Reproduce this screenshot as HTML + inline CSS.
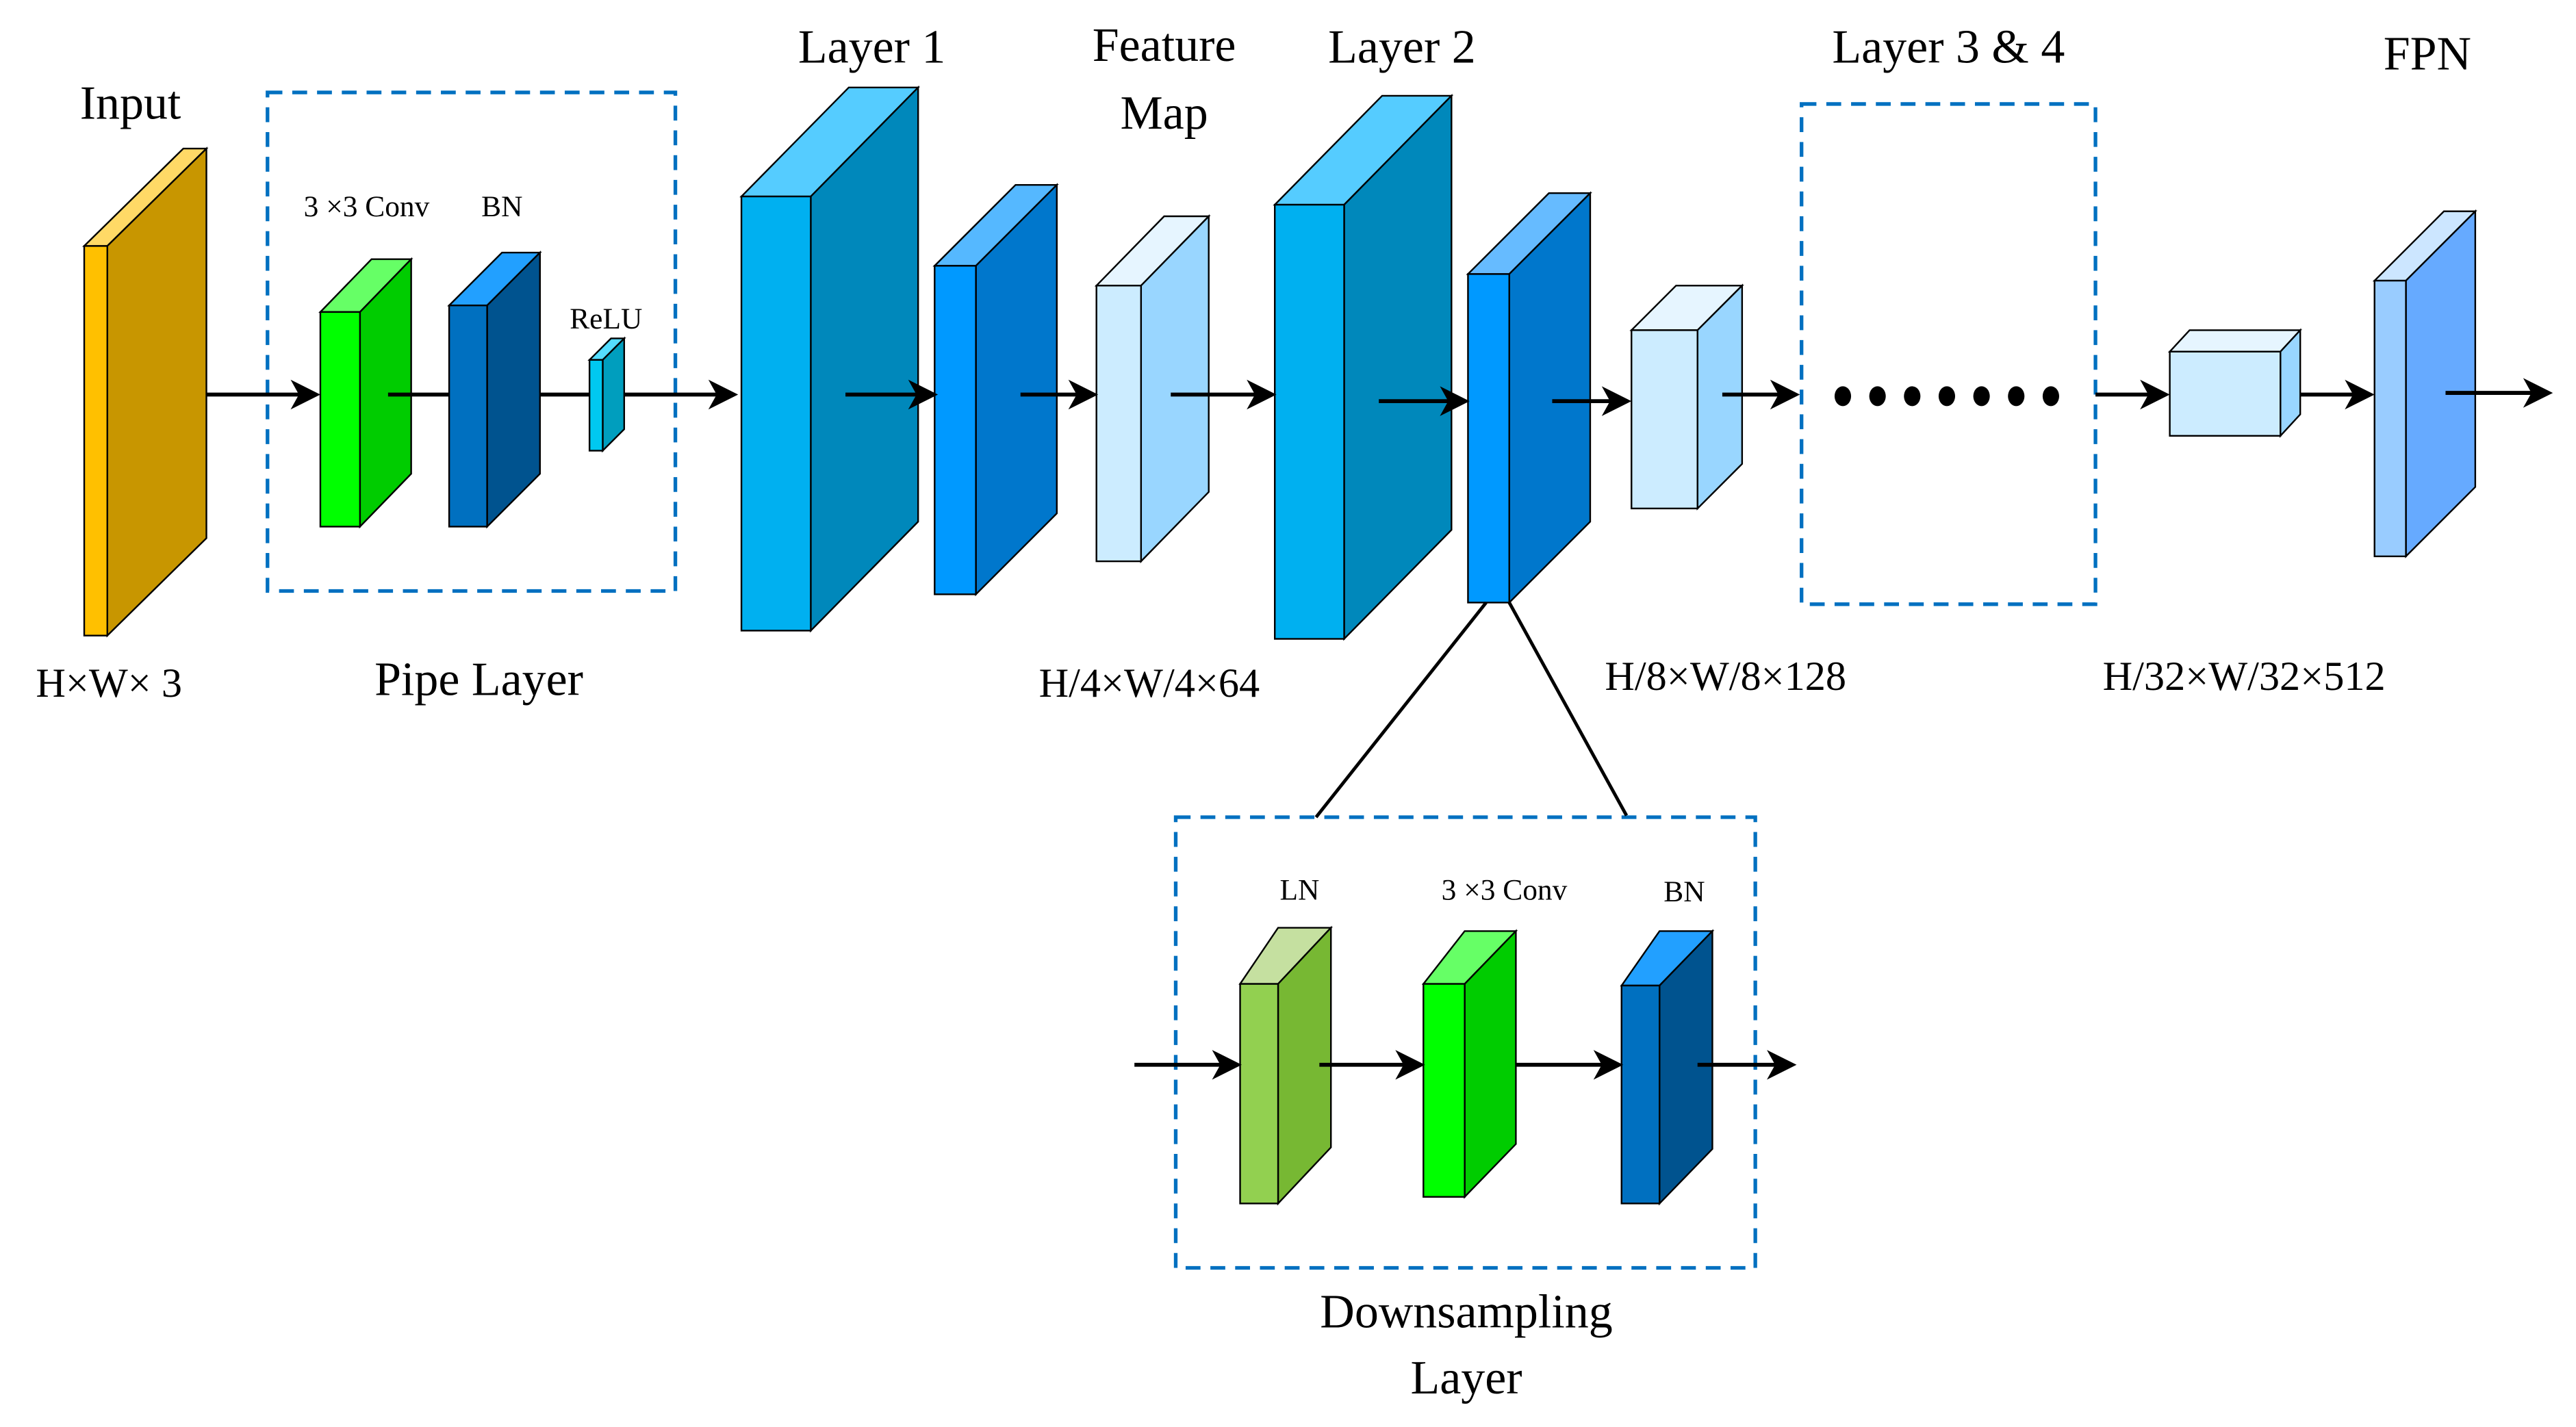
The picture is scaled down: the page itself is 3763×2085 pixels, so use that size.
<!DOCTYPE html>
<html><head><meta charset="utf-8"><style>
html,body{margin:0;padding:0;background:#fff;}
svg{display:block;}
text{font-family:"Liberation Serif",serif;fill:#000;}
</style></head><body>
<svg width="3763" height="2085" viewBox="0 0 1560 864.4" preserveAspectRatio="none" xmlns="http://www.w3.org/2000/svg">
<g stroke="#000" stroke-width="1" stroke-linejoin="miter">
<polygon points="51,149 111,90 125,90 65,149" fill="#FFD966"/>
<polygon points="65,149 125,90 125,326 65,385" fill="#C89600"/>
<rect x="51" y="149" width="14" height="236" fill="#FFC000"/>
<polygon points="194,189 225,157 249,157 218,189" fill="#66FF66"/>
<polygon points="218,189 249,157 249,287 218,319" fill="#00CC00"/>
<rect x="194" y="189" width="24" height="130" fill="#00FF00"/>
<polygon points="272,185 304,153 327,153 295,185" fill="#22A0FF"/>
<polygon points="295,185 327,153 327,287 295,319" fill="#00538F"/>
<rect x="272" y="185" width="23" height="134" fill="#0070C0"/>
<polygon points="357,218 370,205 378,205 365,218" fill="#55DDFF"/>
<polygon points="365,218 378,205 378,260 365,273" fill="#009EBE"/>
<rect x="357" y="218" width="8" height="55" fill="#00C8F0"/>
<polygon points="449,119 514,53 556,53 491,119" fill="#55CCFF"/>
<polygon points="491,119 556,53 556,316 491,382" fill="#0088BB"/>
<rect x="449" y="119" width="42" height="263" fill="#00B0F0"/>
<polygon points="566,161 615,112 640,112 591,161" fill="#55B8FF"/>
<polygon points="591,161 640,112 640,311 591,360" fill="#0077CC"/>
<rect x="566" y="161" width="25" height="199" fill="#0099FF"/>
<polygon points="664,173 705,131 732,131 691,173" fill="#E6F5FF"/>
<polygon points="691,173 732,131 732,298 691,340" fill="#99D6FF"/>
<rect x="664" y="173" width="27" height="167" fill="#CCECFF"/>
<polygon points="772,124 837,58 879,58 814,124" fill="#55CCFF"/>
<polygon points="814,124 879,58 879,321 814,387" fill="#0088BB"/>
<rect x="772" y="124" width="42" height="263" fill="#00B0F0"/>
<polygon points="889,166 938,117 963,117 914,166" fill="#66BBFF"/>
<polygon points="914,166 963,117 963,316 914,365" fill="#0077CC"/>
<rect x="889" y="166" width="25" height="199" fill="#0099FF"/>
<polygon points="988,200 1015,173 1055,173 1028,200" fill="#E6F5FF"/>
<polygon points="1028,200 1055,173 1055,281 1028,308" fill="#99D6FF"/>
<rect x="988" y="200" width="40" height="108" fill="#CCECFF"/>
<polygon points="1314,213 1326,200 1393,200 1381,213" fill="#E6F5FF"/>
<polygon points="1381,213 1393,200 1393,251 1381,264" fill="#99D6FF"/>
<rect x="1314" y="213" width="67" height="51" fill="#CCECFF"/>
<polygon points="1438,170 1480,128 1499,128 1457,170" fill="#CCE6FF" />
<polygon points="1457,170 1499,128 1499,295 1457,337" fill="#66AAFF"/>
<rect x="1438" y="170" width="19" height="167" fill="#99CCFF"/>
<polygon points="751,596 774,562 806,562 774,596" fill="#C5E0A0"/>
<polygon points="774,596 806,562 806,695 774,729" fill="#77B833"/>
<rect x="751" y="596" width="23" height="133" fill="#92D050"/>
<polygon points="862,596 887,564 918,564 887,596" fill="#66FF66"/>
<polygon points="887,596 918,564 918,693 887,725" fill="#00CC00"/>
<rect x="862" y="596" width="25" height="129" fill="#00FF00"/>
<polygon points="982,597 1005,564 1037,564 1005,597" fill="#22A0FF"/>
<polygon points="1005,597 1037,564 1037,696 1005,729" fill="#00538F"/>
<rect x="982" y="597" width="23" height="132" fill="#0070C0"/>
</g>
<g fill="none" stroke="#0070C0" stroke-width="2.2" stroke-dasharray="9,6">
<rect x="162" y="56" width="247" height="302"/>
<rect x="1091" y="63" width="178" height="303"/>
<rect x="712" y="495" width="351" height="273"/>
</g>
<g stroke="#000" stroke-width="2">
<line x1="900" y1="365" x2="797" y2="495"/>
<line x1="914" y1="365" x2="985" y2="494"/>
</g>
<g stroke="#000" stroke-width="2.4" fill="#000">
<line x1="125" y1="239" x2="185" y2="239"/><polygon points="194,239 176,230 181,239 176,248" stroke="none"/>
<line x1="235" y1="239" x2="272" y2="239"/>
<line x1="327" y1="239" x2="357" y2="239"/>
<line x1="378" y1="239" x2="438" y2="239"/><polygon points="447,239 429,230 434,239 429,248" stroke="none"/>
<line x1="512" y1="239" x2="559" y2="239"/><polygon points="568,239 550,230 555,239 550,248" stroke="none"/>
<line x1="618" y1="239" x2="656" y2="239"/><polygon points="665,239 647,230 652,239 647,248" stroke="none"/>
<line x1="709" y1="239" x2="764" y2="239"/><polygon points="773,239 755,230 760,239 755,248" stroke="none"/>
<line x1="835" y1="243" x2="881" y2="243"/><polygon points="890,243 872,234 877,243 872,252" stroke="none"/>
<line x1="940" y1="243" x2="979" y2="243"/><polygon points="988,243 970,234 975,243 970,252" stroke="none"/>
<line x1="1043" y1="239" x2="1081" y2="239"/><polygon points="1090,239 1072,230 1077,239 1072,248" stroke="none"/>
<line x1="1269" y1="239" x2="1305" y2="239"/><polygon points="1314,239 1296,230 1301,239 1296,248" stroke="none"/>
<line x1="1393" y1="239" x2="1429" y2="239"/><polygon points="1438,239 1420,230 1425,239 1420,248" stroke="none"/>
<line x1="1481" y1="238" x2="1537" y2="238"/><polygon points="1546,238 1528,229 1533,238 1528,247" stroke="none"/>
<line x1="687" y1="645" x2="743" y2="645"/><polygon points="752,645 734,636 739,645 734,654" stroke="none"/>
<line x1="799" y1="645" x2="854" y2="645"/><polygon points="863,645 845,636 850,645 845,654" stroke="none"/>
<line x1="918" y1="645" x2="974" y2="645"/><polygon points="983,645 965,636 970,645 965,654" stroke="none"/>
<line x1="1028" y1="645" x2="1079" y2="645"/><polygon points="1088,645 1070,636 1075,645 1070,654" stroke="none"/>
</g>
<g fill="#000">
<ellipse cx="1116" cy="240" rx="5" ry="6"/><ellipse cx="1137" cy="240" rx="5" ry="6"/>
<ellipse cx="1158" cy="240" rx="5" ry="6"/><ellipse cx="1179" cy="240" rx="5" ry="6"/>
<ellipse cx="1200" cy="240" rx="5" ry="6"/><ellipse cx="1221" cy="240" rx="5" ry="6"/>
<ellipse cx="1242" cy="240" rx="5" ry="6"/>
</g>
<g text-anchor="middle">
<text x="79" y="72" font-size="29">Input</text>
<text x="528" y="38" font-size="29">Layer 1</text>
<text x="705" y="37" font-size="29">Feature</text>
<text x="705" y="78" font-size="29">Map</text>
<text x="849" y="38" font-size="29">Layer 2</text>
<text x="1180" y="38" font-size="29">Layer 3 &amp; 4</text>
<text x="1470" y="42" font-size="29">FPN</text>
<text x="222" y="131" font-size="18">3 ×3 Conv</text>
<text x="304" y="131" font-size="18">BN</text>
<text x="367" y="199" font-size="18">ReLU</text>
<text x="66" y="422" font-size="25">H×W× 3</text>
<text x="290" y="421" font-size="29">Pipe Layer</text>
<text x="696" y="422" font-size="25">H/4×W/4×64</text>
<text x="1045" y="418" font-size="25">H/8×W/8×128</text>
<text x="1359" y="418" font-size="25">H/32×W/32×512</text>
<text x="787" y="545" font-size="18">LN</text>
<text x="911" y="545" font-size="18">3 ×3 Conv</text>
<text x="1020" y="546" font-size="18">BN</text>
<text x="888" y="804" font-size="29">Downsampling</text>
<text x="888" y="844" font-size="29">Layer</text>
</g>
</svg>
</body></html>
